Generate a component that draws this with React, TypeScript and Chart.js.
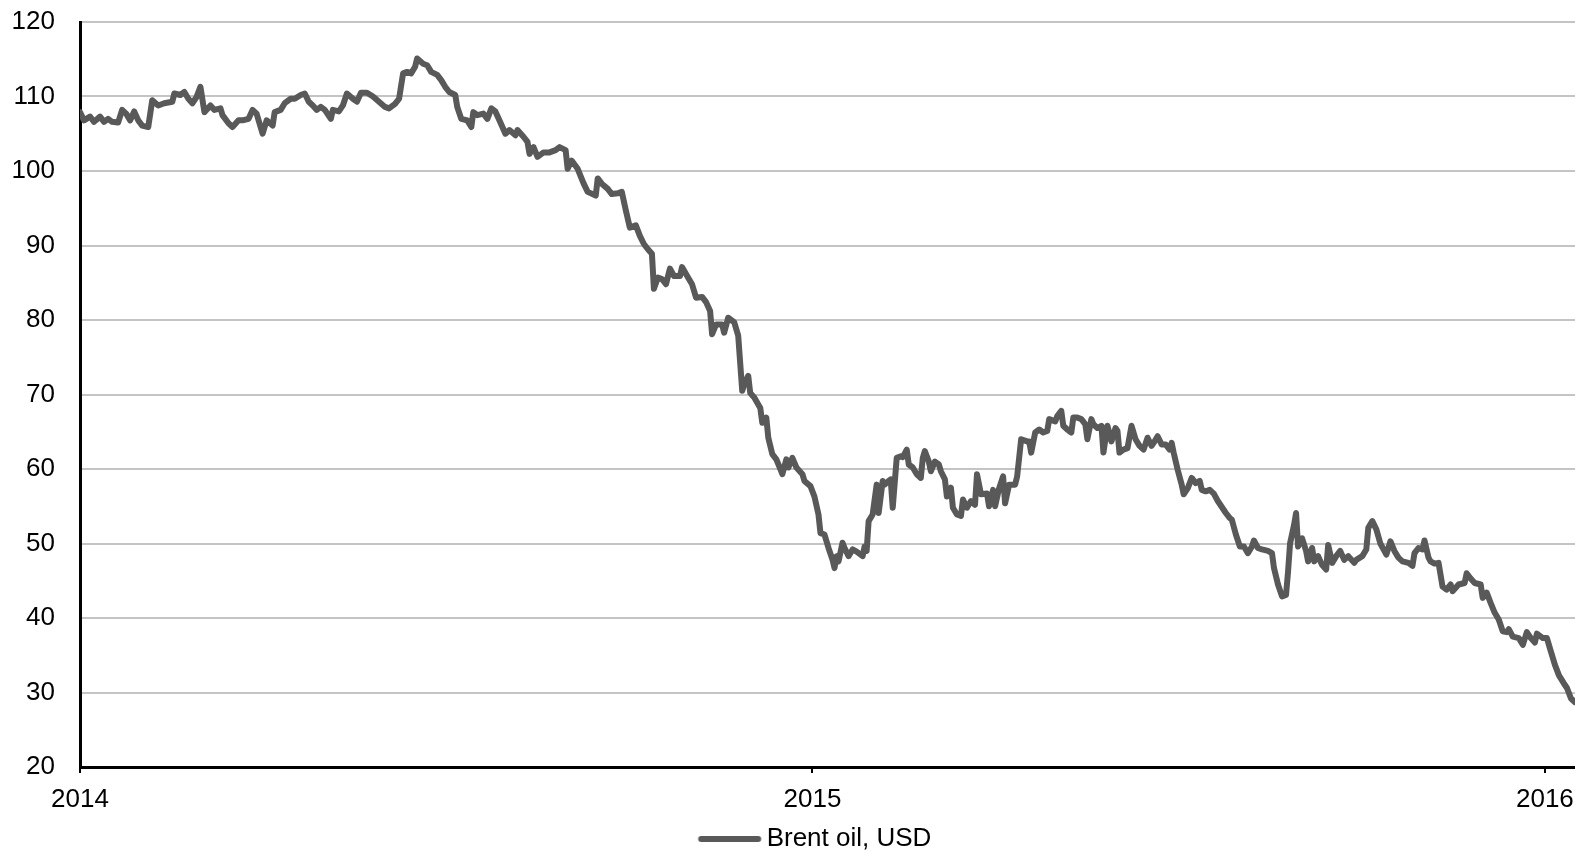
import React, { useEffect, useRef } from "react";
import { Chart, registerables } from "chart.js";

Chart.register(...registerables);

// Day offsets counted from 1 Jan 2014
const dayOffsets: number[] = [
  0, 2, 5, 7, 10, 12, 14, 16, 19, 21,
  23, 25, 27, 29, 31, 34, 36, 39, 42, 46,
  47, 50, 52, 54, 56, 58, 60, 62, 65, 67,
  70, 71, 74, 76, 79, 81, 84, 86, 88, 91,
  93, 96, 97, 100, 102, 105, 107, 110, 112, 114,
  116, 118,
  120, 122, 125, 126, 129, 131, 133, 136, 138, 140,
  143, 146, 149, 152, 154, 157, 159, 161, 163, 165,
  167, 168, 171, 173, 175, 178, 180, 182, 184, 187,
  188, 190, 193, 195, 196, 198, 201, 203, 205, 207,
  209, 212, 214, 217, 218, 221, 223, 224, 226, 228,
  231, 234, 237, 239, 242, 243,
  245, 248, 251, 253, 257, 258, 260, 263, 265, 268,
  270, 272, 274, 277, 279, 281, 283, 285, 286, 288,
  290, 292, 294, 296, 299, 300, 303, 305, 307, 310,
  312, 314, 315, 317, 320, 321, 323, 326, 328, 330,
  331, 333, 334, 336, 339,
  340, 342, 343, 345, 347, 349, 350, 352, 353, 355,
  357, 360, 361, 364, 366, 368, 369, 371, 373, 375,
  376, 377, 378, 380, 381, 383, 385, 387, 390, 391,
  392, 393, 395, 397, 398, 400, 401, 403, 404, 405,
  407, 409, 410, 412, 413, 415, 417, 419, 420, 421,
  423, 424, 426, 428, 429, 431, 432, 434, 435, 437,
  439, 440, 442, 444, 446, 447,
  449, 452, 453, 455, 456, 458, 460, 461, 463, 466,
  467, 469, 472, 473, 474, 476, 478, 480, 482, 483,
  486, 487, 489, 490, 492, 494, 495, 497, 499, 501,
  502, 504, 505, 507, 509, 510, 512, 514, 516, 517,
  518, 520, 522, 524, 526, 528, 530, 532, 534, 535,
  537, 539, 541, 543, 544, 545, 547, 549, 550, 552,
  554, 556, 558, 559, 561, 563, 565, 567,
  571, 573, 574, 576, 578, 580, 582, 584, 585, 587,
  589, 592, 594, 595, 597, 599, 601, 602, 603, 605,
  606, 607, 609, 611, 612, 614, 615, 617, 619, 621,
  622, 624, 626, 628, 630, 632, 635, 636, 639, 641,
  642, 644, 646, 648, 650, 651, 653, 655, 657, 659,
  662, 664, 665, 667, 669, 670, 672,
  673, 675, 677, 679, 681, 683, 684, 687, 690, 691,
  693, 695, 698, 699, 701, 703, 705, 707, 709, 711,
  712, 714, 717, 719, 721, 723, 725, 726, 729, 731,
  733, 735, 737, 740, 741, 743, 745,
];

// Brent oil price, USD
const brentPrices: number[] = [
  107.9, 106.8, 107.3, 106.6, 107.3, 106.6, 107.0, 106.6, 106.5, 108.2,
  107.7, 106.8, 108.0, 106.8, 106.1, 105.9, 109.5, 108.8, 109.1, 109.3,
  110.4, 110.2, 110.6, 109.7, 109.1, 109.9, 111.3, 107.9, 108.8, 108.2,
  108.4, 107.5, 106.4, 105.9, 106.8, 106.8, 107.0, 108.2, 107.7, 105.0,
  106.8, 106.1, 107.9, 108.2, 109.1, 109.7, 109.7, 110.2, 110.4, 109.3,
  108.8, 108.2,
  108.6, 108.2, 107.0, 108.2, 108.0, 108.8, 110.4, 109.7, 109.3, 110.5,
  110.5, 110.0, 109.3, 108.6, 108.4, 109.0, 109.7, 113.1, 113.3, 113.1,
  114.0, 115.1, 114.4, 114.2, 113.3, 112.9, 112.2, 111.3, 110.6, 110.2,
  108.6, 107.0, 106.8, 105.9, 107.9, 107.5, 107.7, 107.0, 108.4, 108.0,
  106.8, 105.0, 105.5, 104.8, 105.5, 104.6, 103.9, 102.3, 103.2, 101.9,
  102.5, 102.5, 102.8, 103.2, 102.8, 100.3,
  101.4, 100.3, 98.3, 97.2, 96.7, 99.0, 98.3, 97.6, 96.9, 97.0,
  97.2, 94.7, 92.4, 92.7, 91.3, 90.2, 89.5, 88.9, 84.2, 85.7,
  85.5, 84.8, 86.9, 85.9, 85.9, 87.1, 85.7, 84.8, 83.0, 83.1,
  82.4, 81.2, 78.1, 79.4, 79.4, 78.3, 80.3, 79.7, 77.9, 70.5,
  71.4, 72.5, 70.2, 69.6, 68.2,
  66.2, 66.9, 64.2, 62.0, 61.3, 60.0, 59.3, 61.3, 60.2, 61.5,
  60.2, 59.3, 58.4, 57.7, 56.3, 53.9, 51.4, 51.2, 49.4, 47.8,
  46.7, 48.3, 47.6, 50.1, 49.4, 48.3, 49.2, 48.9, 48.3, 49.6,
  49.0, 53.0, 53.9, 57.9, 54.1, 58.4, 57.9, 58.4, 58.6, 54.8,
  61.5, 61.7, 61.6, 62.6, 60.6, 60.2, 59.3, 58.8, 61.5, 62.4,
  61.0, 59.7, 61.0, 60.6, 59.7, 58.6, 56.3, 57.5, 54.8, 53.9,
  53.7, 55.9, 54.8, 55.7, 55.2, 59.3,
  56.6, 56.7, 55.0, 57.2, 55.0, 57.4, 59.0, 55.4, 57.9, 57.9,
  59.0, 64.0, 63.7, 63.7, 62.2, 64.9, 65.3, 64.9, 65.1, 66.7,
  66.4, 67.1, 67.8, 65.8, 65.3, 64.9, 66.9, 66.9, 66.7, 66.0,
  64.0, 66.7, 66.0, 65.5, 65.8, 62.2, 65.8, 63.7, 65.5, 65.1,
  62.2, 62.6, 62.8, 65.8, 64.0, 63.1, 62.6, 64.2, 63.1, 63.5,
  64.4, 63.3, 63.3, 62.6, 63.5, 62.2, 59.9, 57.9, 56.6, 57.4,
  58.8, 58.1, 58.4, 57.2, 57.0, 57.2, 56.7, 55.7,
  54.1, 53.4, 53.2, 51.2, 49.6, 49.6, 48.7, 49.6, 50.4, 49.4,
  49.2, 49.0, 48.7, 46.7, 44.5, 42.9, 43.1, 46.2, 50.0, 52.5,
  54.1, 49.6, 50.7, 49.0, 47.6, 49.4, 47.6, 48.3, 47.1, 46.5,
  49.8, 47.4, 48.3, 49.0, 47.8, 48.3, 47.4, 47.8, 48.3, 49.2,
  52.1, 53.0, 51.9, 50.0, 49.0, 48.5, 50.3, 49.0, 48.1, 47.6,
  47.4, 47.0, 48.7, 49.4, 49.2, 50.4, 48.1,
  47.6, 47.3, 47.4, 44.2, 43.8, 44.5, 43.6, 44.5, 44.7, 46.0,
  45.3, 44.7, 44.5, 42.7, 43.4, 42.0, 40.7, 39.8, 38.2, 38.1,
  38.5, 37.5, 37.3, 36.4, 38.1, 37.3, 36.7, 37.9, 37.3, 37.3,
  35.5, 33.7, 32.3, 31.0, 30.6, 29.2, 28.7,
];

const yearTickDays: number[] = [0, 365, 730];
const yearTickLabels: string[] = ["2014", "2015", "2016"];
const seriesLabel = "Brent oil, USD";
const yMin = 20;
const yMax = 120;
const yStep = 10;
const xMaxDay = 745;

const FONT = "'Liberation Sans', Arial, Helvetica, sans-serif";
const FONT_SIZE = 26;
const LINE_COLOR = "#595959";
const LINE_WIDTH = 6;

export default function App() {
  const canvasRef = useRef<HTMLCanvasElement | null>(null);

  useEffect(() => {
    document.body.style.margin = "0";
    const canvas = canvasRef.current;
    if (!canvas) return;

    // legend marker: a short thick line, offset inside a wider transparent image
    const marker = document.createElement("canvas");
    marker.width = 100;
    marker.height = 30;
    const mctx = marker.getContext("2d");
    if (mctx) {
      mctx.strokeStyle = LINE_COLOR;
      mctx.lineWidth = LINE_WIDTH;
      mctx.lineCap = "round";
      mctx.beginPath();
      mctx.moveTo(12.5, 15);
      mctx.lineTo(69.5, 15);
      mctx.stroke();
    }

    const points = dayOffsets.map((d, i) => ({ x: d, y: brentPrices[i] }));

    const chart = new Chart(canvas, {
      type: "line",
      data: {
        datasets: [
          {
            label: seriesLabel,
            data: points,
            borderColor: LINE_COLOR,
            backgroundColor: LINE_COLOR,
            borderWidth: LINE_WIDTH,
            pointRadius: 0,
            pointHoverRadius: 0,
            tension: 0,
            borderJoinStyle: "round",
            borderCapStyle: "round",
            pointStyle: marker as any,
          },
        ],
      },
      options: {
        animation: false,
        responsive: true,
        maintainAspectRatio: false,
        layout: { padding: { top: 22, right: 0, bottom: -11, left: 0 } },
        plugins: {
          tooltip: { enabled: false },
          legend: {
            display: true,
            position: "bottom",
            fullSize: false,
            labels: {
              usePointStyle: true,
              pointStyleWidth: 30,
              color: "#000",
              font: { family: FONT, size: FONT_SIZE },
              padding: 2,
            },
          },
        },
        scales: {
          x: {
            type: "linear",
            min: 0,
            max: xMaxDay,
            afterBuildTicks: (scale: any) => {
              scale.ticks = yearTickDays.map((v) => ({ value: v }));
            },
            afterFit: (scale: any) => {
              scale.height = 57;
              scale.paddingLeft = 0;
              scale.paddingRight = 0;
            },
            ticks: {
              autoSkip: false,
              maxRotation: 0,
              minRotation: 0,
              padding: 11,
              color: "#000",
              font: { family: FONT, size: FONT_SIZE },
              callback: (_v: any, index: number) => yearTickLabels[index],
            },
            grid: {
              display: true,
              drawOnChartArea: false,
              drawTicks: true,
              tickLength: 6,
              color: "#000",
              lineWidth: 2,
            },
            border: { display: true, color: "#000", width: 3 },
          },
          y: {
            type: "linear",
            min: yMin,
            max: yMax,
            afterFit: (scale: any) => {
              scale.width = 80;
              scale.paddingTop = 0;
              scale.paddingBottom = 0;
            },
            ticks: {
              stepSize: yStep,
              padding: 25,
              color: "#000",
              font: { family: FONT, size: FONT_SIZE },
            },
            grid: {
              display: true,
              drawTicks: false,
              color: "#c4c4c4",
              lineWidth: 2,
            },
            border: { display: true, color: "#000", width: 3 },
          },
        },
      },
    });

    return () => {
      chart.destroy();
    };
  }, []);

  return (
    <div style={{ position: "relative", width: 1575, height: 851 }}>
      <canvas ref={canvasRef} />
    </div>
  );
}
